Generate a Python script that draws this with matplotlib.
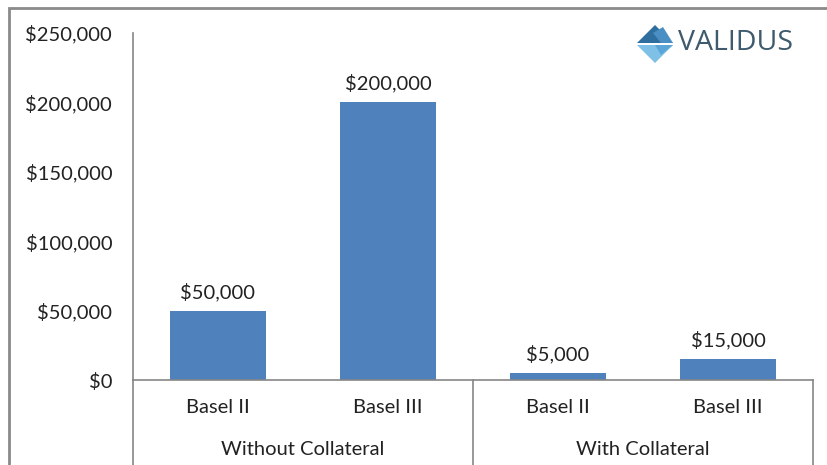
import matplotlib.pyplot as plt
from matplotlib.patches import Polygon, Rectangle
from matplotlib.ticker import FuncFormatter
import matplotlib.transforms as mtransforms

plt.rcParams['font.family'] = ['Lato', 'DejaVu Sans']

groups = ['Without Collateral', 'With Collateral']
regimes = ['Basel II', 'Basel III', 'Basel II', 'Basel III']
values = [50000, 200000, 5000, 15000]
labels = ['$50,000', '$200,000', '$5,000', '$15,000']

W, H = 828, 465
FS = 14.5
fig = plt.figure(figsize=(W / 100, H / 100), dpi=100)

# plot area in pixels: x 133..813, y 33..380
ax = fig.add_axes([133 / W, (H - 380) / H, 680 / W, 347 / H])

x = list(range(len(values)))
ax.bar(x, values, width=0.57, color='#4F81BD', zorder=2)
for xi, v, lab in zip(x, values, labels):
    ax.annotate(lab, (xi, v), xytext=(0, 7), textcoords='offset points',
                ha='center', va='bottom', fontsize=FS, color='#222222')

ax.set_xlim(-0.5, len(values) - 0.5)
ax.set_ylim(0, 250000)
ax.set_yticks(range(0, 250001, 50000))
ax.yaxis.set_major_formatter(FuncFormatter(lambda v, p: f'${v:,.0f}'))
ax.tick_params(axis='y', length=0, pad=15, labelsize=FS, labelcolor='#222222')
ax.set_xticks([])

for s in ['top', 'right']:
    ax.spines[s].set_visible(False)
for s in ['left', 'bottom']:
    ax.spines[s].set_color('#868686')
    ax.spines[s].set_linewidth(1.2)

# extend y axis below zero line
trans = mtransforms.blended_transform_factory(ax.transData, ax.transAxes)
ax.plot([-0.5, -0.5], [0, -0.3], transform=trans, color='#868686', lw=1.2, clip_on=False)
for sep in [1.5, 3.5]:
    ax.plot([sep, sep], [0, -0.3], transform=trans, color='#868686', lw=1.2, clip_on=False)

# category labels
for xi, r in zip(x, regimes):
    ax.text(xi, -0.08, r, transform=trans, ha='center', va='center',
            fontsize=FS, color='#222222')
for gi, g in enumerate(groups):
    ax.text(gi * 2 + 0.5, -0.2, g, transform=trans, ha='center', va='center',
            fontsize=FS, color='#222222')

# outer border
fig.patches.append(Rectangle((9 / W, -0.1), 1.2, (H - 8) / H + 0.1,
                             transform=fig.transFigure, fill=False,
                             edgecolor='#8a8a8a', lw=2.0))

# logo
lx, ly = 655 / W, 1 - 43 / H
sx, sy = 1 / W, 1 / H
shapes = [
    ([(-18, 0), (0, 18), (18, 0)], '#2f6f9f'),
    ([(-2, 10), (8, 16), (18, 0), (6, 0)], '#4a8fc4'),
    ([(-18, -2), (18, -2), (0, -20)], '#7fc0e6'),
    ([(0, -2), (18, -2), (6, -12)], '#5aa6d8'),
]
for pts, c in shapes:
    fig.patches.append(Polygon([(lx + px * sx, ly + py * sy) for px, py in pts],
                               closed=True, transform=fig.transFigure,
                               facecolor=c, edgecolor='none'))
fig.text(678 / W, 1 - 43 / H, 'VALIDUS', ha='left', va='center',
         fontsize=20.5, color='#3e5a6c', family=['Open Sans', 'DejaVu Sans'])

fig.savefig('out.png', dpi=100)
